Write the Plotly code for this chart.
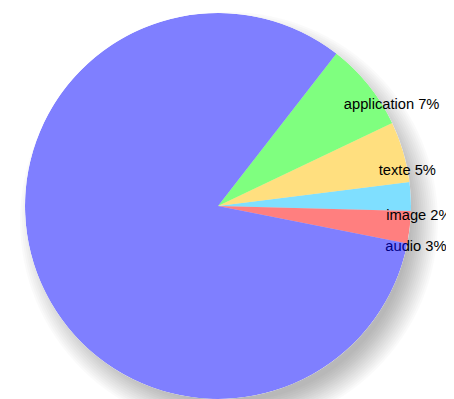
import math
import plotly.graph_objects as go

# ---- data ----
categories = ["image", "texte", "application", "video", "audio"]
shares = [2.4, 5.1, 7.4, 82.4, 2.7]
base_colors = ["rgb(0,192,255)", "rgb(255,192,0)", "rgb(0,255,0)", "rgb(0,0,255)", "rgb(255,0,0)"]
start_angle_deg = -1.5  # first slice starts just below 3 o'clock
top_layer = "video"     # the translucent slice painted over the labels

# page body has an 8px margin, so the figure is sized to fit the window
W, H = 446, 391
CX, CY, R = 210, 198, 193

def rgba(c, a):
    r, g, b = c[4:-1].split(",")
    return f"rgba({r},{g},{b},{a})"

total = sum(shares)
pct_labels = [f"{c} {round(v / total * 100)}%" for c, v in zip(categories, shares)]
spans = [v / total * 360 for v in shares]
mids = []
acc = start_angle_deg
for s in spans:
    mids.append(acc + s / 2)
    acc += s

# label anchors (pixel offsets from the rim point at each mid-angle), polar units = px
lr, lt = [], []
for m in mids:
    px = R * math.cos(math.radians(m)) - 24.5
    py = R * math.sin(math.radians(m)) - 20
    lr.append(math.hypot(px, py))
    lt.append(math.degrees(math.atan2(py, px)))

dom = dict(x=[(CX - R) / W, (CX + R) / W], y=[(H - CY - R) / H, (H - CY + R) / H])
is_top = [n == top_layer for n in categories]

fig = go.Figure()

# lower slices
fig.add_trace(go.Barpolar(
    r=[R] * len(shares), theta=mids, width=spans, subplot="polar",
    marker=dict(color=[rgba(c, 0 if t else 0.5) for t, c in zip(is_top, base_colors)],
                line=dict(width=0)),
    text=categories, hoverinfo="text", showlegend=False,
))
# labels above those slices
fig.add_trace(go.Scatterpolar(
    r=lr, theta=lt, mode="text", text=pct_labels, textposition="middle right", subplot="polar",
    textfont=dict(family="Liberation Sans, Arial, sans-serif", size=14.7, color="#000"),
    hoverinfo="skip", showlegend=False, cliponaxis=False,
))
# translucent top slice painted over the labels
fig.add_trace(go.Barpolar(
    r=[R] * len(shares), theta=mids, width=spans, subplot="polar2",
    marker=dict(color=[rgba(c, 0.5 if t else 0) for t, c in zip(is_top, base_colors)],
                line=dict(width=0)),
    text=categories, hoverinfo="text", showlegend=False,
))

# soft shadow (bottom-right) under the pie
shapes = []
sx, sy = CX + 11, CY + 15
for k in range(15):
    rr = R + 16 - 2 * k
    shapes.append(dict(type="circle", xref="paper", yref="paper", layer="below",
                       x0=(sx - rr) / W, x1=(sx + rr) / W,
                       y0=(H - sy - rr) / H, y1=(H - sy + rr) / H,
                       fillcolor="rgba(0,0,0,0.018)", line=dict(width=0)))

polar_common = dict(
    domain=dom,
    radialaxis=dict(range=[0, R], visible=False, showgrid=False),
    angularaxis=dict(rotation=0, direction="counterclockwise", visible=False, showgrid=False),
)
fig.update_layout(
    width=W, height=H, margin=dict(l=0, r=0, t=0, b=0),
    paper_bgcolor="#fff",
    polar=dict(bgcolor="#fff", **polar_common),
    polar2=dict(bgcolor="rgba(0,0,0,0)", **polar_common),
    shapes=shapes, showlegend=False,
)

fig.write_html("out.html")
